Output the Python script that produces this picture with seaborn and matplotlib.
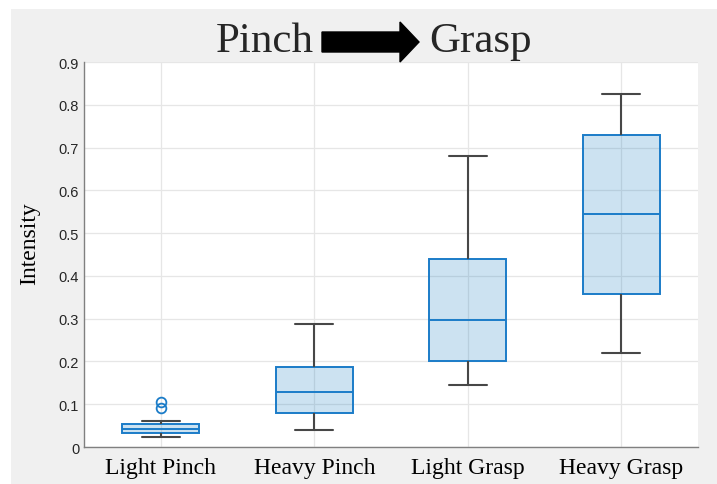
import numpy as np
import pandas as pd
import matplotlib
matplotlib.use('Agg')
import matplotlib.pyplot as plt
import matplotlib.patches as mpatches
from matplotlib.transforms import IdentityTransform
import seaborn as sns

# %%
# Box statistics (min, q1, median, q3, max + outliers)
grips = ['Light Pinch', 'Heavy Pinch', 'Light Grasp', 'Heavy Grasp']
light_pinch = [0.023, 0.026, 0.030, 0.033, 0.036, 0.039, 0.042, 0.045, 0.049, 0.054, 0.061, 0.091, 0.105]
heavy_pinch = [0.040, 0.080, 0.128, 0.188, 0.288]
light_grasp = [0.145, 0.202, 0.296, 0.440, 0.680]
heavy_grasp = [0.220, 0.357, 0.545, 0.730, 0.825]
yticks = [0, 0.1, 0.2, 0.3, 0.4, 0.5, 0.6, 0.7, 0.8, 0.9]
ytick_labels = ['0', '0.1', '0.2', '0.3', '0.4', '0.5', '0.6', '0.7', '0.8', '0.9']

df = pd.DataFrame({
    'grip': np.repeat(grips, [len(light_pinch), len(heavy_pinch), len(light_grasp), len(heavy_grasp)]),
    'intensity': light_pinch + heavy_pinch + light_grasp + heavy_grasp,
})

# %%
sns.set_style('white')
serif = ['Liberation Serif', 'DejaVu Serif']
blue = '#1b7cc8'
dark = '#474747'

fig = plt.figure(figsize=(7.17, 4.85), dpi=100)
fig.patch.set_facecolor('white')
fig.patches.append(mpatches.Rectangle((11 / 717, 0), 1, 1 - 10 / 485, transform=fig.transFigure,
                                      facecolor='#f0f0f0', edgecolor='none', zorder=-10))
ax = fig.add_axes([84 / 717, 1 - 448 / 485, 614 / 717, 385 / 485])
ax.set_facecolor('white')

sns.boxplot(data=df, x='grip', y='intensity', order=grips, ax=ax, width=0.5, whis=1.5,
            boxprops=dict(facecolor=(0.0, 0.447, 0.741, 0.2), edgecolor=blue, linewidth=1.4),
            medianprops=dict(color=blue, linewidth=1.4),
            whiskerprops=dict(color=dark, linewidth=1.5),
            capprops=dict(color=dark, linewidth=1.5),
            flierprops=dict(marker='o', markerfacecolor='none', markeredgecolor=blue,
                            markeredgewidth=1.3, markersize=7))

ax.set_xlim(-0.5, 3.5)
ax.set_ylim(0, 0.9)
ax.set_yticks(yticks)
ax.set_yticklabels(ytick_labels, family=['Liberation Sans', 'DejaVu Sans'], fontsize=10.5, color='#262626')
ax.set_xticks(range(len(grips)))
ax.set_xticklabels(grips, family=serif, fontsize=17, color='black')
ax.set_xlabel('')
ax.set_ylabel('Intensity', family=serif, fontsize=17, color='black')
ax.yaxis.set_label_coords(-0.072, 0.532)

ax.set_axisbelow(True)
ax.grid(True, color='#e6e6e6', linewidth=0.9)
ax.tick_params(direction='in', length=4, color='#808080', width=0.8)
ax.tick_params(axis='x', pad=7)
for side in ['top', 'right']:
    ax.spines[side].set_visible(False)
for side in ['left', 'bottom']:
    ax.spines[side].set_color('#808080')
    ax.spines[side].set_linewidth(1.0)

# title: "Pinch -> Grasp" with a block arrow between the words
fig.text(314 / 717, 1 - 52 / 485, 'Pinch', family=serif, fontsize=31, ha='right', va='baseline')
fig.text(429 / 717, 1 - 52 / 485, 'Grasp', family=serif, fontsize=31, ha='left', va='baseline')
fig.patches.append(mpatches.FancyArrow(322, 485 - 43, 97, 0, width=20, head_width=40, head_length=19,
                                       length_includes_head=True, color='black',
                                       transform=IdentityTransform()))

fig.savefig('out.png', dpi=100)
